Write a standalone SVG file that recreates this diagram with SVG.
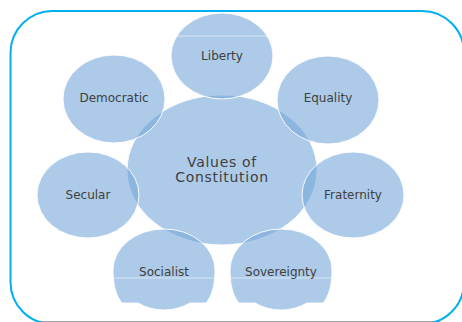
<svg xmlns="http://www.w3.org/2000/svg" width="462" height="322" viewBox="0 0 462 322">
<style>
.c{fill:#76a8da;fill-opacity:0.6;stroke:#fff;stroke-width:1;stroke-opacity:0.9}
.t{font-family:"DejaVu Sans",Verdana,sans-serif;font-size:12px;fill:#404040;text-anchor:middle}
.big{font-size:14px;letter-spacing:0.7px}
.art{stroke:#fff;stroke-opacity:0.5;stroke-width:1}
</style>
<rect x="0" y="0" width="462" height="322" fill="#fff"/>
<line x1="38" y1="321.5" x2="440" y2="321.5" stroke="#a6a6a6" stroke-width="1"/>
<rect x="10.5" y="11" width="453.5" height="313" rx="42" ry="42" fill="none" stroke="#00b0f0" stroke-width="2"/>
<g id="center">
<ellipse class="c" cx="222" cy="170" rx="95" ry="75"/>
<text class="t big" x="222" y="166.5">Values of</text>
<text class="t big" x="222" y="182">Constitution</text>
</g>
<g id="liberty">
<ellipse class="c" cx="222" cy="56" rx="51" ry="43"/>
<line class="art" x1="176" y1="36" x2="268" y2="36"/>
<text class="t" x="222" y="60">Liberty</text>
</g>
<g id="democratic">
<ellipse class="c" cx="114" cy="99" rx="51" ry="44"/>
<text class="t" x="114" y="102">Democratic</text>
</g>
<g id="equality">
<ellipse class="c" cx="328" cy="100" rx="51" ry="44"/>
<text class="t" x="328" y="102">Equality</text>
</g>
<g id="secular">
<ellipse class="c" cx="88" cy="195" rx="51" ry="43"/>
<text class="t" x="88" y="199">Secular</text>
</g>
<g id="fraternity">
<ellipse class="c" cx="353" cy="195" rx="51" ry="43"/>
<text class="t" x="353" y="199">Fraternity</text>
</g>
<g id="socialist">
<path class="c" d="M113,270 A51,41 0 0 1 215,270 C215,285 212,296 206,303 L190,303 Q178,310 164,310 Q150,310 138,303 L122,303 C116,296 113,285 113,270 Z"/>
<line class="art" x1="113" y1="278" x2="215" y2="278"/>
<text class="t" x="164" y="276">Socialist</text>
</g>
<g id="sovereignty">
<path class="c" d="M230,270 A51,41 0 0 1 332,270 C332,285 329,296 323,303 L307,303 Q295,310 281,310 Q267,310 255,303 L239,303 C233,296 230,285 230,270 Z"/>
<line class="art" x1="230" y1="278" x2="332" y2="278"/>
<text class="t" x="281" y="276">Sovereignty</text>
</g>
<g id="connectors"></g>
</svg>
